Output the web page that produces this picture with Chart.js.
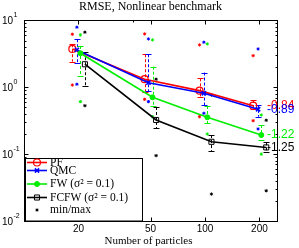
<!DOCTYPE html>
<html>
<head>
<meta charset="utf-8">
<script src="https://cdn.jsdelivr.net/npm/chart.js@4.4.0/dist/chart.umd.min.js"></script>
<style>
  html, body { margin: 0; padding: 0; background: #fff; }
  #grafico { display: block; }
</style>
</head>
<body>
<canvas id="grafico" width="299" height="248"></canvas>
<script>
// ==========================
// DADOS
// ==========================
const particulas = [20, 50, 100, 200];
const xTicks = [20, 50, 100, 200];
const xMinorTicks = [40];
const yTicks = [0.01, 0.1, 1, 10];
const yTickExp = ["-2", "-1", "0", "1"];

// x ligeiramente deslocado por serie (como no original)
const pfX = [18.5, 46.4, 93.3, 184.6];
const qmcX = [19.6, 48.7, 98.6, 196.5];
const fwX = [20.5, 51.3, 103, 204.7];
const fcfwX = [21.7, 53.7, 108.6, 218];

const pfMean = [3.74, 1.32, 0.89, 0.53];
const pfLow = [2.42, 0.86, 0.72, 0.469];
const pfHigh = [4.40, 3.12, 1.36, 0.646];
const pfMin = [1.08, 0.66, 0.363, 0.316];
const pfMax = [6.21, 6.28, 4.30, 2.97];

const qmcMean = [3.62, 1.17, 0.813, 0.469];
const qmcLow = [2.34, 0.88, 0.543, 0.363];
const qmcHigh = [5.23, 3.12, 1.66, 0.543];
const qmcMin = [1.11, 0.61, 0.408, 0.238];
const qmcMax = [7.91, 5.28, 4.72, 3.74];

const fwMean = [3.23, 0.708, 0.356, 0.193];
const fwLow = [1.48, 0.53, 0.289, 0.163];
const fwHigh = [4.15, 2.03, 0.525, 0.273];
const fwMin = [0.61, 0.363, 0.2, 0.1];
const fwMax = [6.07, 5.11, 4.45, 0.385];

const fcfwMean = [2.21, 0.324, 0.153, 0.126];
const fcfwLow = [1.04, 0.246, 0.112, 0.106];
const fcfwHigh = [3.34, 0.507, 0.193, 0.150];
const fcfwMin = [0.53, 0.095, 0.0253, 0.0283];
const fcfwMax = [6.66, 1.32, 0.767, 0.321];

const slopeLabels = ["-0.84", "-0.89", "-1.22", "-1.25"];
const legendLabels = ["PF", "QMC", "FW (σ² = 0.1)", "FCFW (σ² = 0.1)", "min/max"];

const titulo = "RMSE, Nonlinear benchmark";
const tituloX = "Number of particles";

// ==========================
// SERIES
// ==========================
const series = [
    { x: pfX, mean: pfMean, low: pfLow, high: pfHigh, min: pfMin, max: pfMax,
      color: "#ff0000", style: "circle", radius: 3.5, fill: "rgba(0,0,0,0)", bw: 1.2 },
    { x: qmcX, mean: qmcMean, low: qmcLow, high: qmcHigh, min: qmcMin, max: qmcMax,
      color: "#0000ff", style: "crossRot", radius: 3, fill: "#0000ff", bw: 1.5 },
    { x: fwX, mean: fwMean, low: fwLow, high: fwHigh, min: fwMin, max: fwMax,
      color: "#00ee00", style: "circle", radius: 2.5, fill: "#00ee00", bw: 1 },
    { x: fcfwX, mean: fcfwMean, low: fcfwLow, high: fcfwHigh, min: fcfwMin, max: fcfwMax,
      color: "#000000", style: "rect", radius: 3.6, fill: "rgba(0,0,0,0)", bw: 1 }
];

const datasets = [];
series.forEach((s, i) => {
    datasets.push({
        label: legendLabels[i],
        data: s.x.map((x, j) => ({ x: x, y: s.mean[j] })),
        borderColor: s.color,
        borderWidth: 1.6,
        pointStyle: s.style,
        pointRadius: s.radius,
        pointBorderWidth: s.bw,
        pointBorderColor: s.color,
        pointBackgroundColor: s.fill,
        tension: 0,
        order: 10 - i
    });
});
series.forEach((s, i) => {
    const pts = s.x.map((x, j) => ({ x: x, y: s.min[j] }))
        .concat(s.x.map((x, j) => ({ x: x, y: s.max[j] })));
    datasets.push({
        label: "minmax" + i,
        data: pts,
        showLine: false,
        borderColor: s.color,
        pointStyle: "star",
        pointRadius: 1.6,
        pointBorderWidth: 1,
        pointBorderColor: s.color,
        pointBackgroundColor: s.color,
        order: 20
    });
});

function marcador(ctx, style, radius, color, fill, bw, x, y) {
    ctx.save();
    ctx.strokeStyle = color;
    ctx.fillStyle = fill;
    ctx.lineWidth = bw;
    Chart.helpers.drawPoint(ctx, { pointStyle: style, radius: radius, rotation: 0, borderWidth: bw }, x, y);
    ctx.restore();
}

// ==========================
// PLUGIN: barras de erro
// ==========================
const barrasErro = {
    id: "barrasErro",
    beforeDatasetsDraw(chart) {
        const ctx = chart.ctx;
        const xs = chart.scales.x, ys = chart.scales.y;
        ctx.save();
        ctx.lineWidth = 1;
        series.forEach(s => {
            ctx.strokeStyle = s.color;
            s.x.forEach((xv, j) => {
                const px = Math.round(xs.getPixelForValue(xv)) + 0.5;
                const yh = ys.getPixelForValue(s.high[j]);
                const yl = ys.getPixelForValue(s.low[j]);
                ctx.setLineDash([3, 2]);
                ctx.beginPath();
                ctx.moveTo(px, yh);
                ctx.lineTo(px, yl);
                ctx.stroke();
                ctx.setLineDash([]);
                ctx.beginPath();
                ctx.moveTo(px - 3, Math.round(yh) + 0.5);
                ctx.lineTo(px + 3, Math.round(yh) + 0.5);
                ctx.moveTo(px - 3, Math.round(yl) + 0.5);
                ctx.lineTo(px + 3, Math.round(yl) + 0.5);
                ctx.stroke();
            });
        });
        ctx.restore();
    }
};

// ==========================
// PLUGIN: eixos, rotulos, legenda
// ==========================
const eixos = {
    id: "eixos",
    afterDraw(chart) {
        const ctx = chart.ctx;
        const a = chart.chartArea;
        const xs = chart.scales.x, ys = chart.scales.y;
        const L = Math.round(a.left) + 0.5, R = Math.round(a.right) + 0.5;
        const T = Math.round(a.top) + 0.5, B = Math.round(a.bottom) + 0.5;

        ctx.save();
        ctx.strokeStyle = "#000";
        ctx.lineWidth = 1;
        ctx.beginPath();
        // ticks y
        for (let d = -2; d <= 0; d++) {
            for (let k = 2; k <= 9; k++) {
                const py = Math.round(ys.getPixelForValue(k * Math.pow(10, d))) + 0.5;
                ctx.moveTo(L, py); ctx.lineTo(L + 2, py);
                ctx.moveTo(R, py); ctx.lineTo(R - 2, py);
            }
        }
        yTicks.forEach(v => {
            const py = Math.round(ys.getPixelForValue(v)) + 0.5;
            ctx.moveTo(L, py); ctx.lineTo(L + 4, py);
            ctx.moveTo(R, py); ctx.lineTo(R - 4, py);
        });
        xTicks.forEach(v => {
            const px = Math.round(xs.getPixelForValue(v)) + 0.5;
            ctx.moveTo(px, B); ctx.lineTo(px, B - 4);
            ctx.moveTo(px, T); ctx.lineTo(px, T + 4);
        });
        xMinorTicks.forEach(v => {
            const px = Math.round(xs.getPixelForValue(v)) + 0.5;
            ctx.moveTo(px, B); ctx.lineTo(px, B - 2);
            ctx.moveTo(px, T); ctx.lineTo(px, T + 2);
        });
        ctx.stroke();
        ctx.strokeRect(L, T, R - L, B - T);

        // rotulos y
        ctx.fillStyle = "#000";
        yTicks.forEach((v, i) => {
            const py = ys.getPixelForValue(v);
            ctx.font = "10px 'Liberation Sans'";
            ctx.textAlign = "right";
            ctx.textBaseline = "middle";
            ctx.fillText("10", 13, py + 1);
            ctx.font = "7px 'Liberation Sans'";
            ctx.textAlign = "left";
            ctx.fillText(yTickExp[i], 13.5, py - 5);
        });
        // rotulos x
        ctx.font = "10px 'Liberation Sans'";
        ctx.textAlign = "center";
        ctx.textBaseline = "middle";
        xTicks.forEach(v => {
            ctx.fillText(String(v), xs.getPixelForValue(v), 229);
        });
        ctx.font = "11px 'Liberation Serif'";
        ctx.fillText(tituloX, (a.left + a.right) / 2 - 2, 241.5);

        // rotulos de inclinacao
        ctx.font = "12px 'Liberation Sans'";
        ctx.textAlign = "left";
        series.forEach((s, i) => {
            ctx.fillStyle = s.color;
            const py = ys.getPixelForValue(s.mean[s.mean.length - 1]);
            ctx.fillText(slopeLabels[i], a.right - 10, py);
        });

        // legenda
        const lx = 25.5, ly = 158.5, lw = 117, lh = 62.5;
        ctx.fillStyle = "#fff";
        ctx.fillRect(lx, ly, lw, lh);
        ctx.strokeStyle = "#000";
        ctx.strokeRect(lx, ly, lw, lh);
        const linhasY = [162.5, 170.5, 184, 197.5, 210];
        ctx.font = "11.5px 'Liberation Serif'";
        ctx.textBaseline = "middle";
        ctx.textAlign = "left";
        legendLabels.forEach((txt, i) => {
            const y = linhasY[i];
            if (i < series.length) {
                const s = series[i];
                ctx.strokeStyle = s.color;
                ctx.lineWidth = 1.6;
                ctx.beginPath();
                ctx.moveTo(27, y); ctx.lineTo(47, y);
                ctx.stroke();
                marcador(ctx, s.style, s.radius, s.color, s.fill, s.bw, 37, y);
            } else {
                marcador(ctx, "star", 1.6, "#000", "#000", 1, 37, y);
            }
            ctx.fillStyle = "#000";
            ctx.fillText(txt, 50, y);
        });
        ctx.restore();
    }
};

// ==========================
// GRAFICO
// ==========================
const ctx = document.getElementById("grafico").getContext("2d");

new Chart(ctx, {
    type: "line",
    data: { datasets: datasets },
    options: {
        responsive: false,
        animation: false,
        devicePixelRatio: 1,
        layout: { padding: { left: 24, right: 22, top: 0, bottom: 27 } },
        plugins: {
            legend: { display: false },
            tooltip: { enabled: false },
            title: {
                display: true,
                text: titulo,
                color: "#000",
                font: { family: "'Liberation Serif'", size: 12, weight: "normal" },
                padding: { top: 0, bottom: 6 }
            }
        },
        scales: {
            x: { type: "logarithmic", min: 10, max: 250, display: false },
            y: { type: "logarithmic", min: 0.01, max: 10, display: false }
        }
    },
    plugins: [barrasErro, eixos]
});
</script>
</body>
</html>
